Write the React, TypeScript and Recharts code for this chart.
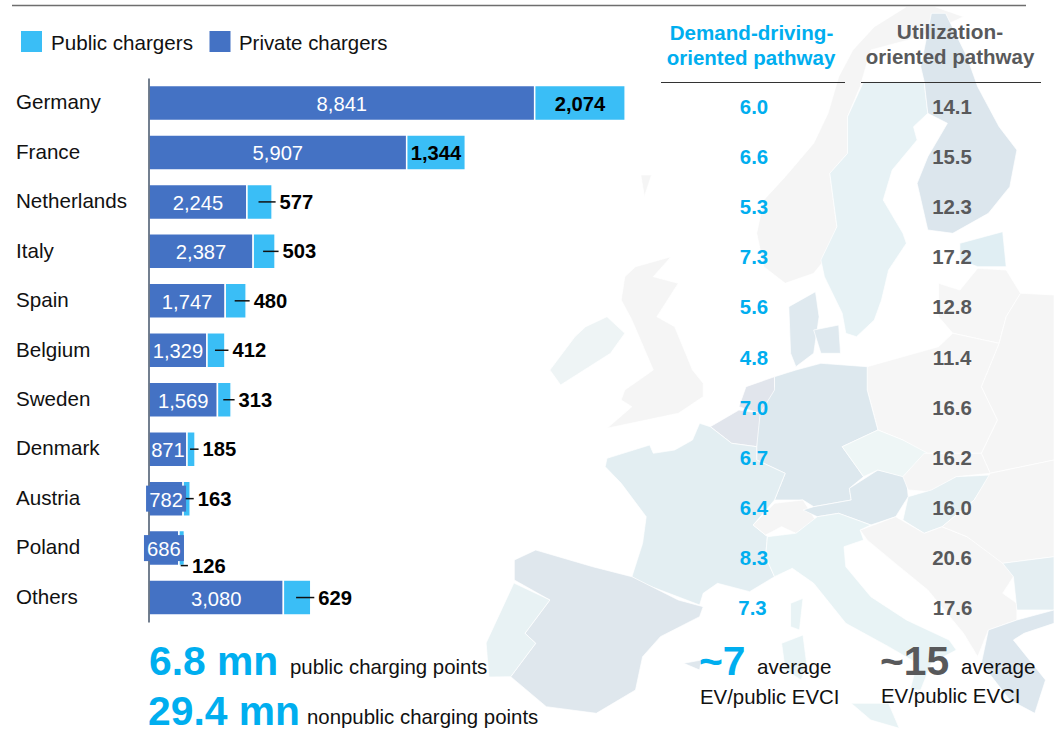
import React from "react";
import { BarChart, Bar, XAxis, YAxis, LabelList } from "recharts";

const countries = ["Germany","France","Netherlands","Italy","Spain","Belgium","Sweden","Denmark","Austria","Poland","Others"];
const privateChargers = [8841,5907,2245,2387,1747,1329,1569,871,782,686,3080];
const publicChargers = [2074,1344,577,503,480,412,313,185,163,126,629];
const demandPathway = ["6.0","6.6","5.3","7.3","5.6","4.8","7.0","6.7","6.4","8.3","7.3"];
const utilizationPathway = ["14.1","15.5","12.3","17.2","12.8","11.4","16.6","16.2","16.0","20.6","17.6"];

const rows = countries.map((name, i) => ({ name, priv: privateChargers[i], pub: publicChargers[i] }));

const FONT = '"Liberation Sans", Arial, sans-serif';
const BLUE = "#00AEEF";
const GREY = "#58595B";
const PRIVATE_COLOR = "#4472C4";
const PUBLIC_COLOR = "#3ABEF6";

// Background map outlines (decorative, not data). a = upper crop, b = lower crop.
const a = (...n: number[]) => { const o: string[] = []; for (let i = 0; i < n.length; i += 2) o.push(`${(500 + n[i] / 2.805).toFixed(1)},${(n[i + 1] / 3).toFixed(1)}`); return o; };
const b = (...n: number[]) => { const o: string[] = []; for (let i = 0; i < n.length; i += 2) o.push(`${(500 + n[i] / 2.805).toFixed(1)},${(370 + n[i + 1] / 3).toFixed(1)}`); return o; };

const SHAPES: [string, string[]][] = [
  ["#F5F5F5", a(1140,20,1050,80,990,150,950,230,920,340,880,430,800,530,740,600,720,700,740,800,800,850,880,820,910,780,945,680,925,520,975,460,975,350,1010,260,1040,150,1180,110,1300,50,1220,20)],
  ["#E7F2F5", a(1020,245,1190,245,1200,340,1160,380,1170,420,1100,510,1075,600,1130,700,1140,730,1090,810,1070,900,1050,960,1000,1010,970,1000,960,940,910,830,900,780,945,680,925,520,975,460,975,350)],
  ["#DCE6ED", a(1180,200,1210,40,1250,40,1310,170,1340,260,1400,380,1450,450,1430,560,1370,640,1270,700,1200,690,1170,550,1200,470,1255,370,1200,340,1190,245)],
  ["#E0EEF3", a(1290,730,1410,695,1420,800,1340,800,1290,780)],
  ["#F6F6F6", a(1230,850,1290,870,1340,805,1420,810,1460,880,1420,950,1400,1030,1270,1000,1230,950)],
  ["#F5F5F5", [...a(1460,880,1554,885), ...b(1554,270,1375,310,1350,250,1395,150,1350,50), ...a(1400,1030,1420,950)]],
  ["#F6F6F6", [...a(1400,1030,1270,1000,1230,1040,1030,1100), ...b(1030,0,1030,60,1060,180,1130,210,1190,250,1350,250,1395,150,1350,50)]],
  ["#DDE8EE", [...a(830,1110,900,1090,1030,1100), ...b(1030,60,1060,180,960,230,1020,320,980,355,985,390,880,410,850,390,770,390,800,310,720,270,720,130,770,50,770,20)]],
  ["#DFE9EF", a(810,920,885,875,895,950,880,1060,830,1100,815,1060)],
  ["#DFE9EF", a(880,990,950,975,955,1060,900,1060)],
  ["#E1E5EC", b(690,50,770,20,770,60,730,130,670,110)],
  ["#E1E5EC", b(590,170,670,120,730,130,720,230,650,220)],
  ["#E3EEF2", b(560,160,590,170,650,220,720,230,720,270,800,310,770,390,710,465,750,500,745,560,770,620,700,665,610,640,570,670,560,705,400,640,370,620,400,520,410,440,340,340,295,290,300,265,420,225,430,250,490,240,540,210)],
  ["#F5F5F5", b(710,465,770,400,850,390,885,450,830,490,790,470,745,495)],
  ["#DDE8EE", b(850,420,880,410,985,390,980,355,1060,300,1140,320,1145,380,1110,440,1040,465,950,430,890,440)],
  ["#EEF6F6", b(960,230,1060,180,1130,210,1200,250,1130,320,1060,300,1020,320)],
  ["#F5F5F5", b(1190,250,1350,250,1375,310,1280,320,1210,365,1145,360,1130,320)],
  ["#E6F0F3", b(1145,380,1210,360,1280,320,1375,315,1330,390,1240,470,1190,490,1130,450)],
  ["#F5F5F5", b(1010,480,1110,440,1190,490,1240,470,1310,500,1410,570,1440,620,1410,670,1450,700,1450,750,1370,780,1340,860,1300,790,1200,660,1120,590,1030,510)],
  ["#F5F5F5", b(1330,390,1375,310,1554,270,1554,560,1410,580,1310,500,1240,470)],
  ["#E8F3F5", b(750,500,830,490,890,440,950,430,1040,465,1010,480,1020,510,965,530,970,590,1040,680,1140,750,1260,810,1280,840,1210,880,1180,960,1150,960,1170,880,1090,830,970,760,880,640,820,595,770,620,745,560)],
  ["#E8F3F5", b(790,820,850,795,860,880,845,930,800,900)],
  ["#E8F3F5", b(815,700,850,685,840,780,815,770)],
  ["#E8F3F5", b(985,1000,1090,1000,1120,1075,1040,1050)],
  ["#DFE7ED", b(40,570,100,540,260,590,370,620,500,690,570,710,560,740,450,800,400,860,380,960,270,1030,130,1010,30,920,100,820,70,790,140,690,40,630)],
  ["#E8F2F4", b(39,639,140,690,70,790,100,820,30,920,-31,921,-39,819)],
  ["#DFE7ED", b(515,880,565,870,560,900)],
  ["#F5F5F5", [...a(380,800,480,770,430,830,500,850,440,950,490,980,540,1110), ...b(570,40,570,80,500,130,300,175,370,110,340,90,350,60,430,0), ...a(370,960,340,900,350,830)]],
  ["#EEF4F5", [...a(240,980,300,950,350,1000,310,1060), ...b(170,45,140,0), ...a(210,1010)]],
  ["#F5F5F5", a(395,525,425,525,405,590)],
  ["#E4EEF2", b(1410,580,1554,560,1554,720,1450,720,1440,620)],
  ["#DDE7EE", b(1370,780,1450,750,1554,720,1554,760,1470,790,1440,810,1530,930,1500,1030,1430,990,1350,880)],
];

const T = (p: any) => <text fontFamily={FONT} fontSize={20} {...p} />;

const CountryTick = ({ y, payload }: any) => (
  <T x={16} y={y + 6} fill="#111" fontSize={20.6}>{payload.value}</T>
);

const RowLabels = (props: any) => {
  const { x, y, width, height, index } = props;
  const axisX = 149;
  const cy = y + height / 2;
  const privWidth = x - axisX;
  const privCenter = axisX + privWidth / 2;
  const needsBox = privWidth < 36;
  const inside = width > 55;
  const end = x + width;
  const pub = publicChargers[index].toLocaleString("en-US");
  const priv = privateChargers[index].toLocaleString("en-US");
  const drop = end < 186 ? height / 2 : 0;
  return (
    <g>
      {needsBox && <rect x={privCenter - 20} y={cy - 13} width={40} height={26} fill={PRIVATE_COLOR} />}
      <T x={privCenter} y={cy + 8} fill="#fff" textAnchor="middle" fontSize={20.2}>{priv}</T>
      {inside ? (
        <T x={x + width / 2} y={cy + 8} fill="#000" fontWeight={700} textAnchor="middle" fontSize={20.2}>{pub}</T>
      ) : (
        <g>
          <line x1={x + width / 2 - 1} x2={end + 3.5} y1={cy + drop} y2={cy + drop} stroke="#111" strokeWidth={1.5} />
          <T x={end + 7.5} y={cy + drop + 7} fill="#000" fontWeight={700} fontSize={20.2}>{pub}</T>
        </g>
      )}
    </g>
  );
};

const Backdrop = () => (
  <g>
    {SHAPES.map(([fill, pts], i) => (
      <polygon key={i} points={pts.join(" ")} fill={fill} stroke="#fff" strokeWidth={0.7} />
    ))}
  </g>
);

const Annotations = () => (
  <g>
    <line x1={12} x2={1026} y1={5.5} y2={5.5} stroke="#6E6E6E" strokeWidth={1.5} />
    <rect x={21} y={31} width={21} height={21} fill={PUBLIC_COLOR} />
    <T x={51} y={50} fill="#111" fontSize={20.6}>Public chargers</T>
    <rect x={209.5} y={31} width={21} height={21} fill={PRIVATE_COLOR} />
    <T x={239} y={50} fill="#111" fontSize={20.4}>Private chargers</T>

    <T x={751.5} y={40} fill={BLUE} fontWeight={700} textAnchor="middle" fontSize={20.6}>Demand-driving-</T>
    <T x={751} y={65} fill={BLUE} fontWeight={700} textAnchor="middle" fontSize={20.5}>oriented pathway</T>
    <T x={950} y={39} fill={GREY} fontWeight={700} textAnchor="middle" fontSize={20.8}>Utilization-</T>
    <T x={950} y={64} fill={GREY} fontWeight={700} textAnchor="middle" fontSize={20.5}>oriented pathway</T>
    <line x1={661} x2={845} y1={82.5} y2={82.5} stroke="#333" strokeWidth={1.2} />
    <line x1={861} x2={1041} y1={82.5} y2={82.5} stroke="#333" strokeWidth={1.2} />

    {demandPathway.map((v, i) => (
      <T key={v + i} x={i === 10 ? 752.5 : 754} y={114 + i * 50.1} fill={BLUE} fontWeight={700} textAnchor="middle" fontSize={20.4}>{v}</T>
    ))}
    {utilizationPathway.map((v, i) => (
      <T key={v + i} x={i === 10 ? 952.5 : 952} y={114 + i * 50.1} fill={GREY} fontWeight={700} textAnchor="middle" fontSize={20.4}>{v}</T>
    ))}

    <T x={149} y={675} fill={BLUE} fontWeight={700} fontSize={40.8}>6.8 mn</T>
    <T x={290} y={674} fill="#111" fontSize={20.4}>public charging points</T>
    <T x={148} y={725} fill={BLUE} fontWeight={700} fontSize={40.8}>29.4 mn</T>
    <T x={307} y={724} fill="#111" fontSize={20.4}>nonpublic charging points</T>

    <T x={699} y={675} fill={BLUE} fontWeight={700} fontSize={40.8}>~7</T>
    <T x={757} y={674} fill="#111" fontSize={20.6}>average</T>
    <T x={700} y={704} fill="#111" fontSize={20.4}>EV/public EVCI</T>
    <T x={880} y={675} fill={GREY} fontWeight={700} fontSize={40.8}>~15</T>
    <T x={961} y={674} fill="#111" fontSize={20.6}>average</T>
    <T x={881} y={703} fill="#111" fontSize={20.4}>EV/public EVCI</T>
  </g>
);

export default function App() {
  return (
    <div style={{ position: "absolute", left: 0, top: 0, width: 1054, height: 740, overflow: "hidden", background: "#fff" }}>
      <BarChart
        width={1054}
        height={740}
        data={rows}
        layout="vertical"
        barSize={35}
        margin={{ top: 78.5, right: 207, bottom: 117.5, left: 0 }}
      >
        <Backdrop />
        <XAxis type="number" domain={[0, 16000]} hide />
        <YAxis
          type="category"
          dataKey="name"
          width={149}
          interval={0}
          tick={CountryTick}
          tickLine={false}
          axisLine={{ stroke: "#44546A", strokeWidth: 1.5 }}
        />
        <Bar dataKey="priv" stackId="s" fill={PRIVATE_COLOR} stroke="#fff" strokeWidth={1.5} isAnimationActive={false} />
        <Bar dataKey="pub" stackId="s" fill={PUBLIC_COLOR} stroke="#fff" strokeWidth={1.5} isAnimationActive={false}>
          <LabelList dataKey="pub" content={RowLabels} />
        </Bar>
        <Annotations />
      </BarChart>
    </div>
  );
}
